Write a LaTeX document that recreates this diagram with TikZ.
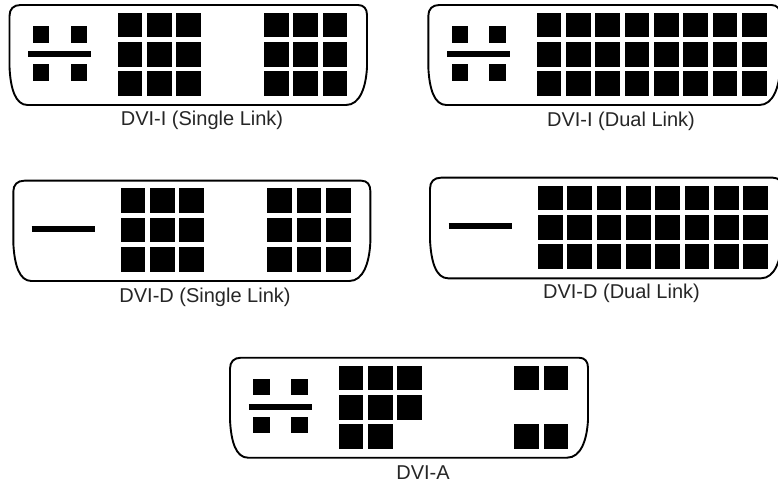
\documentclass[tikz,border=0pt]{standalone}
\usepackage{fontspec}
\setmainfont{Liberation Sans}
\tikzset{
  shell/.style={draw=black,line width=1.9pt,line join=round,fill=white},
  pin/.style={fill=black},
  bar/.style={draw=black,line width=6.2pt,line cap=butt},
  caption/.style={font=\fontsize{20}{23}\selectfont,text=black!85,inner sep=0pt}
}
% shell: x, y, width, height
\newcommand{\dvishell}[4]{%
  \begin{scope}[shift={(#1,#2)}]
    \path[shell] (0,11) .. controls (0,4) and (4,0) .. (11,0) -- (#3-9,0)
      .. controls (#3-3,0) and (#3,4) .. (#3,10) -- (#3,62)
      .. controls (#3-1,82) and (#3-7,#4) .. (#3-21,#4) -- (18,#4)
      .. controls (6,#4) and (1,84) .. (0,62) -- cycle;
  \end{scope}}
% pin block: x, y, list of col/row
\newcommand{\dvipins}[3]{%
  \begin{scope}[shift={(#1,#2)}]
    \foreach \c/\r in {#3}
      \fill[pin] ({\c*29.33},{\r*29.33}) rectangle +(24.7,24.7);
  \end{scope}}
% analog cross: x, y of shell
\newcommand{\dvicross}[2]{%
  \begin{scope}[shift={(#1,#2)}]
    \foreach \c/\r in {0/0,1/0,0/1,1/1}
      \fill[pin] ({23.2+\c*37.9},{21+\r*38}) rectangle +(16.7,16.7);
    \draw[bar] (18.8,49) -- (81.5,49);
  \end{scope}}
\newcommand{\dvibar}[2]{\draw[bar] (#1,#2) -- (#1+63,#2);}
\begin{document}
\begin{tikzpicture}[x=1pt,y=-1pt]
  \useasboundingbox[fill=white] (0,0) rectangle (778,486);
  % DVI-I single
  \dvishell{9.5}{5}{357.5}{100}
  \dvicross{9.5}{5}
  \dvipins{117.7}{12.7}{0/0,1/0,2/0,0/1,1/1,2/1,0/2,1/2,2/2}
  \dvipins{264}{12.7}{0/0,1/0,2/0,0/1,1/1,2/1,0/2,1/2,2/2}
  \node[caption] (iS) at (202,120) {DVI-I (Single Link)};
  % DVI-I dual
  \dvishell{428.3}{5}{352}{100}
  \dvicross{428.3}{5}
  \dvipins{536.7}{12.7}{0/0,1/0,2/0,3/0,4/0,5/0,6/0,7/0,0/1,1/1,2/1,3/1,4/1,5/1,6/1,7/1,0/2,1/2,2/2,3/2,4/2,5/2,6/2,7/2}
  \node[caption] (iD) at (621,121) {DVI-I (Dual Link)};
  % DVI-D single
  \dvishell{13.3}{180.7}{357}{100.3}
  \dvibar{31.7}{229}
  \dvipins{120.7}{188.3}{0/0,1/0,2/0,0/1,1/1,2/1,0/2,1/2,2/2}
  \dvipins{267.3}{188.3}{0/0,1/0,2/0,0/1,1/1,2/1,0/2,1/2,2/2}
  \node[caption] (dS) at (205,297) {DVI-D (Single Link)};
  % DVI-D dual
  \dvishell{430}{177.7}{352}{100.6}
  \dvibar{448.7}{226.3}
  \dvipins{538}{185.7}{0/0,1/0,2/0,3/0,4/0,5/0,6/0,7/0,0/1,1/1,2/1,3/1,4/1,5/1,6/1,7/1,0/2,1/2,2/2,3/2,4/2,5/2,6/2,7/2}
  \node[caption] (dD) at (621.5,293) {DVI-D (Dual Link)};
  % DVI-A
  \dvishell{230}{357.7}{358}{100}
  \dvicross{230}{357.7}
  \dvipins{338.7}{365.7}{0/0,1/0,2/0,0/1,1/1,2/1,0/2,1/2}
  \dvipins{514.3}{365.7}{0/0,1/0,0/2,1/2}
  \node[caption] (aA) at (423,473) {DVI-A};
\end{tikzpicture}
\end{document}
